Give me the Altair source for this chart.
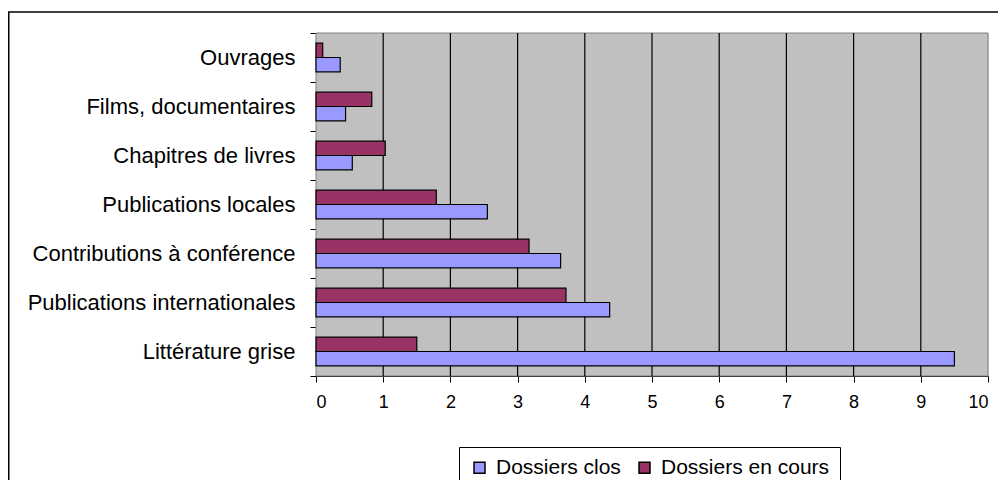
import altair as alt
import pandas as pd

categories = ["Ouvrages", "Films, documentaires", "Chapitres de livres",
              "Publications locales", "Contributions à conférence",
              "Publications internationales", "Littérature grise"]
clos = [0.36, 0.44, 0.54, 2.55, 3.64, 4.37, 9.5]
en_cours = [0.1, 0.83, 1.03, 1.79, 3.17, 3.72, 1.5]
series = ["Dossiers clos", "Dossiers en cours"]
colors = ["#9999FF", "#993366"]
x_ticks = list(range(0, 11))
grid_values = list(range(1, 10))

rows = []
for c, a, b in zip(categories, clos, en_cours):
    rows.append({"cat": c, "serie": series[0], "val": a})
    rows.append({"cat": c, "serie": series[1], "val": b})
df = pd.DataFrame(rows)
one = pd.DataFrame({"k": [0]})
grid_df = pd.DataFrame({"val": grid_values})

xscale = alt.Scale(domain=[0, 10], nice=False)
xaxis = alt.Axis(values=x_ticks, format="d", title=None, grid=False,
                 tickSize=6, tickColor="black", domainColor="black",
                 labelFontSize=18, labelPadding=11, labelColor="black")

frame = alt.Chart(one).mark_rect(
    fill="transparent", fillOpacity=0, stroke="black", strokeWidth=1.5).encode(
    x=alt.value(-307.25), x2=alt.value(720), y=alt.value(-21), y2=alt.value(500))

plotbg = alt.Chart(one).mark_rect(
    fill="#C0C0C0", stroke="#808080", strokeWidth=1).encode(
    x=alt.value(0), x2=alt.value(672), y=alt.value(0), y2=alt.value(343))

grid = alt.Chart(grid_df).mark_rule(color="black", strokeWidth=1.2).encode(
    x=alt.X("val:Q", scale=xscale, axis=xaxis),
    y=alt.value(0), y2=alt.value(343))

bars = alt.Chart(df).mark_bar(stroke="black", strokeWidth=1.2, opacity=1).encode(
    x=alt.X("val:Q", scale=xscale, axis=xaxis),
    y=alt.Y("cat:N", sort=categories,
            scale=alt.Scale(paddingInner=0, paddingOuter=0),
            axis=alt.Axis(title=None, tickBand="extent", grid=False, tickSize=6,
                          tickColor="black", domainColor="black",
                          labelFontSize=22, labelPadding=15, labelColor="black", labelLimit=400)),
    yOffset=alt.YOffset("serie:N", sort=[series[1], series[0]],
                        scale=alt.Scale(paddingInner=0, paddingOuter=0.714)),
    color=alt.Color("serie:N", scale=alt.Scale(domain=series, range=colors),
                    legend=alt.Legend(title=None, orient="none", legendX=143, legendY=414,
                                      direction="horizontal", columns=2,
                                      padding=10, strokeColor="black", fillColor="white",
                                      labelFontSize=21, labelColor="black", labelLimit=400,
                                      symbolType="square", symbolSize=121,
                                      symbolStrokeColor="black", symbolStrokeWidth=1.5,
                                      symbolOpacity=1, labelOffset=6, columnPadding=13)),
)

chart = alt.layer(frame, plotbg, grid, bars).properties(
    width=672, height=343,
    autosize=alt.AutoSizeParams(type="none"),
    padding={"left": 308, "top": 25, "right": 10, "bottom": 104},
).configure_view(
    stroke=None
).configure_axis(
    labelFont="Liberation Sans"
).configure_legend(
    labelFont="Liberation Sans"
).configure(background="white")

chart.save("out.html", embed_options={"renderer": "svg", "actions": False})
